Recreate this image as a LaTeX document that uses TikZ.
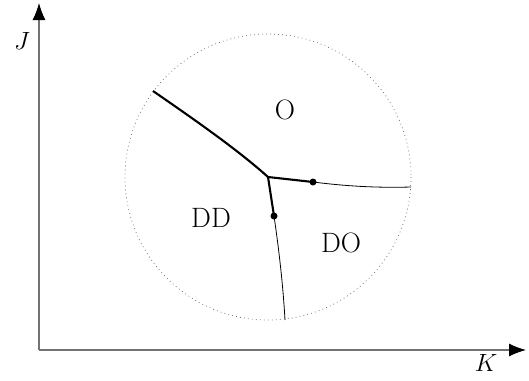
\documentclass[tikz,border=0pt]{standalone}
\usetikzlibrary{arrows.meta}
\begin{document}
\begin{tikzpicture}[x=1pt,y=-1pt,
  axis/.style={draw=black!55,line width=1.1pt,-{Latex[length=17pt,width=13pt,color=black]}},
  thickln/.style={line width=2.1pt,black},
  thinln/.style={line width=0.8pt,black},
  lbl/.style={font=\fontsize{28}{32}\selectfont,inner sep=0pt},
  axlbl/.style={font=\fontsize{27}{32}\selectfont\itshape,inner sep=0pt},
  dotnode/.style={circle,fill=black,inner sep=0pt,minimum size=7pt}]
\useasboundingbox (0,0) rectangle (529,380);
% axes
\coordinate (orig) at (39,350);
\coordinate (ytip) at (39,3);
\coordinate (xtip) at (526,350);
\draw[axis] (orig) -- (ytip);
\draw[axis] (orig) -- (xtip);
\node[axlbl] (J) at (22,41) {$J$};
\node[axlbl] (K) at (486,363) {$K$};
% dotted circle
\coordinate (c) at (268,177);
\draw[black!60,line width=0.7pt,dash pattern=on 0.8pt off 3.2pt] (c) circle[radius=143];
% phase boundaries
\coordinate (tl) at (153,91);
\coordinate (re) at (411,187);
\coordinate (be) at (285,320);
\node[dotnode] (d1) at (313,182) {};
\node[dotnode] (d2) at (274,216) {};
\draw[thickln] (tl) .. controls (195,120) and (238,150) .. (c);
\draw[thickln] (c) -- (d1.center);
\draw[thickln] (c) -- (d2.center);
\draw[thinln] (d1.center) .. controls (345,186) and (375,188) .. (re);
\draw[thinln] (d2.center) .. controls (279,250) and (283,285) .. (be);
% labels
\node[lbl] (O) at (285,110) {O};
\node[lbl] (DD) at (211,218) {DD};
\node[lbl] (DO) at (341,243) {DO};
\end{tikzpicture}
\end{document}
